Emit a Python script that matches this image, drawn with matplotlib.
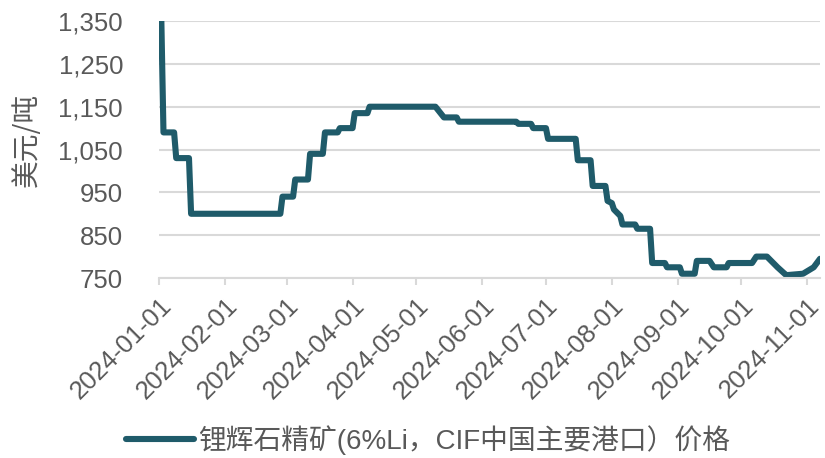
import matplotlib
matplotlib.use("Agg")
import matplotlib.pyplot as plt
import pandas as pd

plt.rcParams['font.family'] = ['Liberation Sans', 'Noto Sans CJK SC', 'DejaVu Sans']

dates = [
    "2024-01-02", "2024-01-03", "2024-01-08", "2024-01-09", "2024-01-15", "2024-01-16",
    "2024-02-27", "2024-02-28", "2024-03-04", "2024-03-05", "2024-03-11", "2024-03-12",
    "2024-03-18", "2024-03-19", "2024-03-25", "2024-03-26", "2024-04-01", "2024-04-02",
    "2024-04-08", "2024-04-09", "2024-05-10", "2024-05-14", "2024-05-20", "2024-05-21",
    "2024-06-17", "2024-06-18", "2024-06-24", "2024-06-25", "2024-07-01", "2024-07-02",
    "2024-07-15", "2024-07-16", "2024-07-22", "2024-07-23", "2024-07-29", "2024-07-30",
    "2024-08-01", "2024-08-02", "2024-08-05", "2024-08-06", "2024-08-12", "2024-08-13",
    "2024-08-19", "2024-08-20", "2024-08-26", "2024-08-27", "2024-09-02", "2024-09-03",
    "2024-09-09", "2024-09-10", "2024-09-16", "2024-09-18", "2024-09-24", "2024-09-25",
    "2024-10-06", "2024-10-08", "2024-10-13", "2024-10-18", "2024-10-22", "2024-10-23",
    "2024-10-30", "2024-11-04", "2024-11-07",
]
prices = [
    1350, 1090, 1090, 1030, 1030, 900,
    900, 940, 940, 980, 980, 1040,
    1040, 1090, 1090, 1100, 1100, 1135,
    1135, 1150, 1150, 1125, 1125, 1115,
    1115, 1110, 1110, 1100, 1100, 1075,
    1075, 1025, 1025, 965, 965, 930,
    925, 910, 895, 875, 875, 865,
    865, 785, 785, 775, 775, 760,
    760, 790, 790, 775, 775, 785,
    785, 800, 800, 775, 757, 757,
    760, 775, 795,
]
series_name = "锂辉石精矿(6%Li，CIF中国主要港口）价格"
y_label = "美元/吨"
y_ticks = [750, 850, 950, 1050, 1150, 1250, 1350]
x_ticks = ["2024-01-01", "2024-02-01", "2024-03-01", "2024-04-01", "2024-05-01", "2024-06-01",
           "2024-07-01", "2024-08-01", "2024-09-01", "2024-10-01", "2024-11-01"]

text_color = "#595959"
grid_color = "#D9D9D9"
line_color = "#1F5B6A"

fig = plt.figure(figsize=(8.25, 4.58), dpi=100)
ax = fig.add_axes([0.193, 0.393, 0.801, 0.561])

x = pd.to_datetime(dates)
ax.plot(x, prices, color=line_color, lw=4.4, solid_joinstyle='round',
        solid_capstyle='round', label=series_name)

ax.set_ylim(750, 1350)
ax.set_yticks(y_ticks)
ax.set_yticklabels([f"{v:,}" for v in y_ticks])
ax.set_xlim(pd.Timestamp("2024-01-01"), pd.Timestamp("2024-11-07"))
ax.set_xticks(pd.to_datetime(x_ticks))
ax.set_xticklabels(x_ticks, rotation=45, ha='right', rotation_mode='anchor')

ax.grid(axis='y', color=grid_color, lw=1.5)
ax.set_axisbelow(True)
for s in ['top', 'right', 'left']:
    ax.spines[s].set_visible(False)
ax.spines['bottom'].set_color(grid_color)
ax.spines['bottom'].set_linewidth(1.5)

ax.tick_params(axis='y', length=0, pad=26, labelsize=18.5, labelcolor=text_color)
ax.tick_params(axis='x', length=5, width=1.5, color=grid_color, pad=6,
               labelsize=18.5, labelcolor=text_color)

fig.text(0.033, 1 - 140 / 458, y_label, rotation=90, ha='center', va='center',
         fontsize=20, color=text_color,
         family=['Noto Sans CJK SC', 'Liberation Sans'])

leg = fig.legend(loc='center', bbox_to_anchor=(0.519, 0.039), frameon=False,
                 handlelength=2.45, handletextpad=0.15,
                 prop={'family': ['Liberation Sans', 'Noto Sans CJK SC'], 'size': 20})
for t in leg.get_texts():
    t.set_color(text_color)

fig.savefig("out.png", dpi=100)
